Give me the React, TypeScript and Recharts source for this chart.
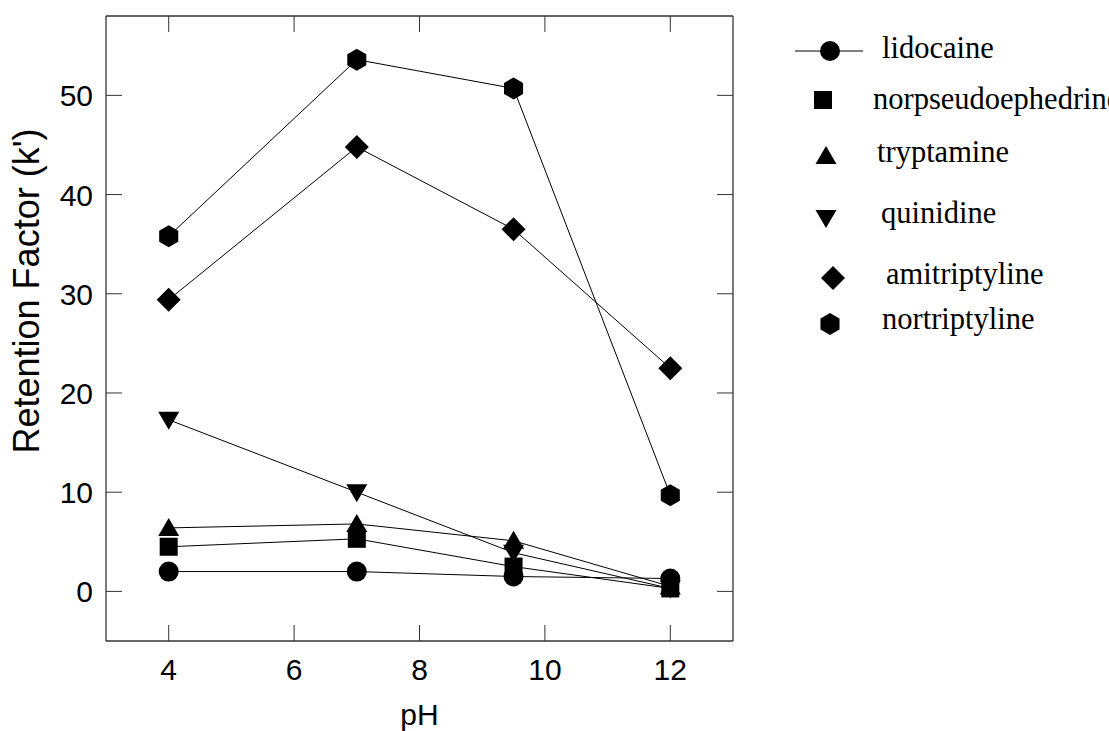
import React from 'react'
import { ComposedChart, Line, XAxis, YAxis } from 'recharts'

const PH = [4, 7, 9.5, 12]
const LIDOCAINE = [2.0, 2.0, 1.5, 1.3]
const NORPSEUDOEPHEDRINE = [4.5, 5.3, 2.5, 0.3]
const TRYPTAMINE = [6.4, 6.8, 5.1, 0.5]
const QUINIDINE = [17.3, 10.0, 3.9, 0.3]
const AMITRIPTYLINE = [29.4, 44.8, 36.5, 22.5]
const NORTRIPTYLINE = [35.8, 53.6, 50.7, 9.7]

const X_TICKS = [4, 6, 8, 10, 12]
const Y_TICKS = [0, 10, 20, 30, 40, 50]

const SERIES = [
  { name: 'lidocaine', values: LIDOCAINE, shape: 'circle' },
  { name: 'norpseudoephedrine', values: NORPSEUDOEPHEDRINE, shape: 'square' },
  { name: 'tryptamine', values: TRYPTAMINE, shape: 'up' },
  { name: 'quinidine', values: QUINIDINE, shape: 'down' },
  { name: 'amitriptyline', values: AMITRIPTYLINE, shape: 'diamond' },
  { name: 'nortriptyline', values: NORTRIPTYLINE, shape: 'hexagon' },
]

const data = PH.map((p, i) => {
  const row: Record<string, number> = { pH: p }
  SERIES.forEach(s => { row[s.name] = s.values[i] })
  return row
})

const AXIS = '#333'
const SANS = '"Liberation Sans", Arial, sans-serif'
const SERIF = '"Liberation Serif", "Times New Roman", serif'
const TICK_LEN = 16

function Marker({ shape, cx, cy }: { shape: string; cx: number; cy: number }) {
  if (shape === 'circle') return <circle cx={cx} cy={cy} r={10} fill="#000" />
  if (shape === 'square') return <rect x={cx - 9} y={cy - 9} width={18} height={18} fill="#000" />
  if (shape === 'up')
    return <polygon points={`${cx},${cy - 10} ${cx + 10.5},${cy + 8} ${cx - 10.5},${cy + 8}`} fill="#000" />
  if (shape === 'down')
    return <polygon points={`${cx},${cy + 10} ${cx + 10.5},${cy - 8} ${cx - 10.5},${cy - 8}`} fill="#000" />
  if (shape === 'diamond')
    return <polygon points={`${cx},${cy - 12} ${cx + 12},${cy} ${cx},${cy + 12} ${cx - 12},${cy}`} fill="#000" />
  // hexagon, pointy top
  const r = 11
  const pts = [0, 1, 2, 3, 4, 5]
    .map(k => {
      const a = (Math.PI / 3) * k - Math.PI / 2
      return `${cx + r * Math.cos(a)},${cy + r * Math.sin(a)}`
    })
    .join(' ')
  return <polygon points={pts} fill="#000" />
}

const BottomTick = (props: any) => {
  const { x, y, payload } = props
  return (
    <g>
      <line x1={x} y1={y} x2={x} y2={y - TICK_LEN} stroke={AXIS} />
      <text x={x} y={y + 39} textAnchor="middle" fontSize={30} fontFamily={SANS} fill="#000">
        {payload.value}
      </text>
    </g>
  )
}

const TopTick = (props: any) => {
  const { x, y } = props
  return <line x1={x} y1={y} x2={x} y2={y + TICK_LEN} stroke={AXIS} />
}

const LeftTick = (props: any) => {
  const { x, y, payload } = props
  return (
    <g>
      <line x1={x} y1={y} x2={x + TICK_LEN} y2={y} stroke={AXIS} />
      <text x={x - 13} y={y + 11} textAnchor="end" fontSize={30} fontFamily={SANS} fill="#000">
        {payload.value}
      </text>
    </g>
  )
}

const RightTick = (props: any) => {
  const { x, y } = props
  return <line x1={x} y1={y} x2={x - TICK_LEN} y2={y} stroke={AXIS} />
}

const YLabel = (props: any) => {
  const { viewBox } = props
  const x = viewBox.x - 37
  const y = 291
  return (
    <text
      x={x}
      y={y}
      transform={`rotate(-90, ${x}, ${y})`}
      textAnchor="middle"
      fontSize={36}
      fontFamily={SANS}
      fill="#000"
    >
      Retention Factor (k')
    </text>
  )
}

// legend rows, page coordinates
const LEGEND_LAYOUT = [
  { mx: 830, my: 51, tx: 882, ty: 58, line: true },
  { mx: 823, my: 100, tx: 873, ty: 109 },
  { mx: 826, my: 156, tx: 877, ty: 162 },
  { mx: 826, my: 218, tx: 881, ty: 223 },
  { mx: 833, my: 278, tx: 886, ty: 284 },
  { mx: 830, my: 324, tx: 882, ty: 329 },
]

function ChartLegend() {
  return (
    <svg
      width={1109}
      height={731}
      style={{ position: 'absolute', left: 0, top: 0, pointerEvents: 'none' }}
    >
      {SERIES.map((s, i) => {
        const l = LEGEND_LAYOUT[i]
        return (
          <g key={s.name}>
            {l.line && <line x1={795} y1={l.my} x2={863} y2={l.my} stroke="#000" />}
            <Marker shape={s.shape} cx={l.mx} cy={l.my} />
            <text x={l.tx} y={l.ty} fontSize={30.5} fontFamily={SERIF} fill="#000">
              {s.name}
            </text>
          </g>
        )
      })}
    </svg>
  )
}

export default function App() {
  return (
    <div
      style={{
        position: 'absolute',
        left: 0,
        top: 0,
        width: 1109,
        height: 731,
        overflow: 'hidden',
        background: '#fff',
      }}
    >
      <ComposedChart
        width={1109}
        height={731}
        data={data}
        margin={{ top: 15, right: 375, bottom: 60, left: 76 }}
      >
        <XAxis
          dataKey="pH"
          type="number"
          domain={[3, 13]}
          ticks={X_TICKS}
          interval={0}
          height={30}
          tickSize={0}
          tickMargin={0}
          tickLine={false}
          axisLine={{ stroke: AXIS, strokeWidth: 1.3 }}
          tick={<BottomTick />}
          label={{
            value: 'pH',
            position: 'bottom',
            offset: 33,
            fontSize: 30,
            fontFamily: SANS,
            fill: '#000',
          }}
        />
        <XAxis
          xAxisId="top"
          orientation="top"
          dataKey="pH"
          type="number"
          domain={[3, 13]}
          ticks={X_TICKS}
          interval={0}
          height={1}
          tickSize={0}
          tickMargin={0}
          tickLine={false}
          axisLine={{ stroke: AXIS, strokeWidth: 1.3 }}
          tick={<TopTick />}
        />
        <YAxis
          type="number"
          domain={[-5, 58]}
          ticks={Y_TICKS}
          interval={0}
          width={30}
          tickSize={0}
          tickMargin={0}
          tickLine={false}
          allowDataOverflow
          axisLine={{ stroke: AXIS, strokeWidth: 1.3 }}
          tick={<LeftTick />}
          label={<YLabel />}
        />
        <YAxis
          yAxisId="right"
          orientation="right"
          type="number"
          domain={[-5, 58]}
          ticks={Y_TICKS}
          interval={0}
          width={1}
          tickSize={0}
          tickMargin={0}
          tickLine={false}
          allowDataOverflow
          axisLine={{ stroke: AXIS, strokeWidth: 1.3 }}
          tick={<RightTick />}
        />
        {SERIES.map(s => (
          <Line
            key={s.name}
            type="linear"
            dataKey={s.name}
            stroke="#000"
            strokeWidth={1}
            isAnimationActive={false}
            activeDot={false}
            dot={(p: any) => (
              <Marker key={`${s.name}-${p.index}`} shape={s.shape} cx={p.cx} cy={p.cy} />
            )}
          />
        ))}
      </ComposedChart>
      <ChartLegend />
    </div>
  )
}
